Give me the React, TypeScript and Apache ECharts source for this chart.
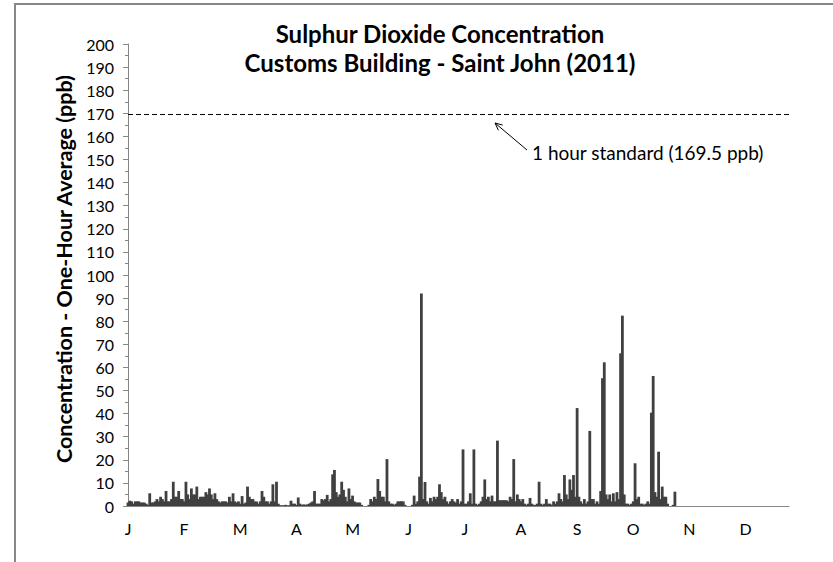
import React, { useEffect, useRef } from "react";
import * as echarts from "echarts";

// Month letters shown every 31 days on the time axis (Excel label interval of 744 hours)
const monthLetters = ["J", "F", "M", "A", "M", "J", "J", "A", "S", "O", "N", "D"];
const yTickValues = [0, 200, 10];

// Daily maximum one-hour SO2 concentration (ppb)
const jan = [1.5, 2.3, 2, 1, 2, 2, 2, 1.5, 1.5, 1.5, 1, 0.5, 5.5, 1.5, 1.5, 2, 3, 2, 4, 3, 2, 6.5, 2, 2, 3, 10.5, 4, 4, 6.5, 3, 3];
const feb = [2, 10.5, 5, 3, 7.6, 5, 5, 8.4, 3, 4, 4, 4, 6, 5, 7.6, 5, 3, 5.5, 3, 2, 1.5, 2, 2, 2, 1.5, 4, 2, 5.5];
const mar = [2, 1.5, 2, 1, 4.3, 1, 1.5, 8.4, 4, 3, 3, 2, 2, 1, 2, 6.5, 4, 2, 2, 1, 2, 9.4, 2, 10.5, 1, 0.3, 0.3, 0.3, 0.5, 0.3, 0.3];
const apr = [2.3, 1, 1, 0.5, 3.7, 1, 0.5, 0.7, 0.5, 0.7, 1, 1.5, 2, 6.5, 1, 1, 1, 3, 2.5, 3, 4.8, 2, 3, 13.7, 15.6, 6, 4, 5, 10.5, 7];
const may = [4, 2, 7.6, 3, 4.5, 2, 1.5, 1.5, 1.5, 0.5, 0, 0, 0, 0.5, 3, 2, 4, 3, 11.7, 6.5, 4, 4, 2, 20.3, 2, 1, 1, 0.5, 1, 2, 2];
const jun = [2, 2, 0.5, 0, 0, 0, 0.5, 4.5, 1, 2, 12.7, 92, 3, 10.4, 2, 1, 3.5, 2, 4, 3, 4, 9.4, 6, 3, 4, 2, 1, 2, 3, 2];
const jul = [1.5, 3, 1, 2, 24.5, 1, 1, 2, 5.5, 1, 24.5, 1, 0.5, 1, 2, 4, 11.5, 3, 4, 2, 4.5, 2, 2, 28.3, 2.5, 2.5, 2.5, 2.5, 2.5, 2, 4];
const aug = [3, 20.3, 2, 5, 3, 2, 3, 1, 0.5, 1, 3.5, 1, 0.5, 0.5, 1, 10.5, 1, 0.5, 1, 3, 1, 1, 0.5, 2, 1, 2, 5.5, 3, 2, 13.4, 5];
const sep = [3, 11.5, 7, 13.4, 4, 42.4, 4, 2, 1, 3, 1, 2, 32.5, 3, 3, 1, 2, 1, 6.5, 55.3, 62.2, 5, 3, 5, 2, 5.5, 2, 6, 3, 66.1];
const oct = [82.4, 5, 1, 1, 0.5, 1, 2, 18.5, 3, 4, 1, 1, 0.5, 1, 2, 1, 40.4, 56.3, 6, 4, 23.5, 3, 8.4, 4, 4, 1, 0, 0, 0.5, 6.2, 0];

const standardValue = 169.5;
const standardLabel = "1 hour standard (169.5 ppb)";
const titleLines = ["Sulphur Dioxide Concentration", "Customs Building - Saint John (2011)"];
const yAxisTitle = "Concentration - One-Hour Average (ppb)";

const FONT = "Lato, 'Open Sans', sans-serif";

export default function App() {
  const ref = useRef<HTMLDivElement>(null);

  useEffect(() => {
    if (!ref.current) return;
    const chart = echarts.init(ref.current, null, { renderer: "svg" });
    const daily = [...jan, ...feb, ...mar, ...apr, ...may, ...jun, ...jul, ...aug, ...sep, ...oct];
    const data = daily.map((v, i) => [i, v]);

    chart.setOption({
      animation: false,
      backgroundColor: "#ffffff",
      grid: { left: 128, top: 44, right: 44, bottom: 56, containLabel: false },
      xAxis: {
        type: "value",
        min: 0,
        max: 365,
        interval: 31,
        axisLine: { show: true, onZero: false, lineStyle: { color: "#868686", width: 1 } },
        axisTick: { show: false },
        splitLine: { show: false },
        axisLabel: {
          showMaxLabel: false,
          margin: 14,
          fontFamily: FONT,
          fontSize: 16,
          color: "#000",
          formatter: (v: number) => {
            const i = Math.round(v / 31);
            return Math.abs(v - i * 31) < 0.01 && i < 12 ? monthLetters[i] : "";
          },
        },
      },
      yAxis: {
        type: "value",
        min: yTickValues[0],
        max: yTickValues[1],
        interval: yTickValues[2],
        axisLine: { show: true, lineStyle: { color: "#868686", width: 1 } },
        axisTick: { show: true, length: 5, lineStyle: { color: "#868686" } },
        minorTick: { show: true, splitNumber: 2, length: 3, lineStyle: { color: "#868686" } },
        splitLine: { show: false },
        axisLabel: { margin: 14, fontFamily: FONT, fontSize: 16, color: "#000" },
      },
      series: [
        {
          type: "bar",
          data,
          barWidth: 2.8,
          itemStyle: { color: "#404040" },
          markLine: {
            silent: true,
            symbol: ["none", "none"],
            label: { show: false },
            lineStyle: { color: "#000", width: 1, type: [5, 3] },
            data: [{ yAxis: standardValue }],
          },
        },
      ],
      graphic: [
        {
          type: "rect",
          shape: { x: 15, y: 4, width: 900, height: 700 },
          style: { fill: "none", stroke: "#878787", lineWidth: 2 },
          silent: true,
        },
        {
          type: "text",
          x: 440,
          y: 19,
          style: {
            text: titleLines.join("\n"),
            font: `bold 24px ${FONT}`,
            fill: "#000",
            textAlign: "center",
            lineHeight: 29,
          },
        },
        {
          type: "text",
          x: 64,
          y: 269,
          rotation: Math.PI / 2,
          style: {
            text: yAxisTitle,
            font: `bold 21.5px ${FONT}`,
            fill: "#000",
            textAlign: "center",
            textVerticalAlign: "middle",
          },
        },
        {
          type: "line",
          shape: { x1: 527, y1: 150, x2: 495, y2: 123 },
          style: { stroke: "#000", lineWidth: 1 },
        },
        {
          type: "polyline",
          shape: { points: [[498.4, 130.3], [495, 123], [502.7, 125.1]] },
          style: { stroke: "#000", lineWidth: 1, fill: "none" },
        },
        {
          type: "text",
          x: 532,
          y: 152,
          style: {
            text: standardLabel,
            font: `19px ${FONT}`,
            fill: "#000",
            textAlign: "left",
            textVerticalAlign: "middle",
          },
        },
      ],
    });

    return () => chart.dispose();
  }, []);

  return (
    <div
      ref={ref}
      style={{ position: "absolute", left: 0, top: 0, width: 833, height: 562 }}
    />
  );
}
